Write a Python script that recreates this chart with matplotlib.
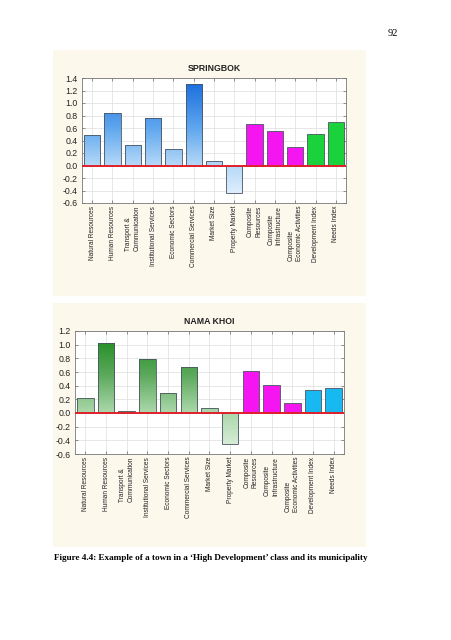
import numpy as np
import matplotlib
matplotlib.use('Agg')
import matplotlib.pyplot as plt
from matplotlib.colors import LinearSegmentedColormap
from matplotlib.patches import Rectangle

plt.rcParams['font.family'] = ['Liberation Sans', 'DejaVu Sans']

categories = ['Natural Resources', 'Human Resources', 'Transport &\nCommunication',
              'Institutional Services', 'Economic Sectors', 'Commercial Services',
              'Market Size', 'Property Market', 'Composite\nResources',
              'Composite\nInfrastructure', 'Composite\nEconomic Activities',
              'Development Index', 'Needs Index']

springbok = [0.49, 0.84, 0.33, 0.76, 0.26, 1.31, 0.08, -0.44, 0.66, 0.55, 0.30, 0.51, 0.70]
nama_khoi = [0.22, 1.02, 0.03, 0.79, 0.29, 0.67, 0.08, -0.45, 0.62, 0.41, 0.15, 0.33, 0.37]

# bar groups: first 8 gradient, next 3 composite, last 2 indices
groups = ['grad'] * 8 + ['comp'] * 3 + ['idx'] * 2

W, H = 452, 640
fig = plt.figure(figsize=(W / 100, H / 100), dpi=100)
fig.patch.set_facecolor('white')


def px(l, t, r, b):
    return [l / W, 1 - b / H, (r - l) / W, (b - t) / H]


def panel(t, b):
    fig.patches.append(Rectangle((53 / W, 1 - b / H), (366 - 53) / W, (b - t) / H,
                                 transform=fig.transFigure, facecolor='#fdf8ec',
                                 edgecolor='none', zorder=-5))


def draw(rect, values, title, ylim, yticks, cmap, idx_color):
    ax = fig.add_axes(px(*rect))
    ax.set_zorder(2)
    ax.set_facecolor('white')
    x = np.arange(len(values))
    ax.set_xlim(-0.5, len(values) - 0.5)
    ax.set_ylim(*ylim)
    grad = np.linspace(0, 1, 256).reshape(-1, 1)
    for xi, v, g in zip(x, values, groups):
        if g == 'grad':
            bar = ax.bar(xi, v, width=0.8, facecolor='none', edgecolor='#4a5560',
                         linewidth=0.6, zorder=3)[0]
            im = ax.imshow(grad, cmap=cmap, origin='lower', aspect='auto',
                           extent=(-0.5, len(values) - 0.5, ylim[0], ylim[1]), zorder=2)
            im.set_clip_path(bar)
        else:
            c = '#f515f0' if g == 'comp' else idx_color
            ax.bar(xi, v, width=0.8, color=c, edgecolor='#4a5560', linewidth=0.6, zorder=3)
    ax.set_xlim(-0.5, len(values) - 0.5)
    ax.set_ylim(*ylim)
    ax.axhline(0, color='#e0202a', linewidth=1.4, zorder=4)
    ax.set_yticks(yticks)
    ax.set_yticklabels(['%.1f' % t for t in yticks], fontsize=6.3, color='#222222')
    ax.set_xticks(x)
    ax.set_xticklabels(categories, rotation=90, fontsize=4.7, va='top', ha='center',
                       multialignment='left', color='#222222')
    ax.grid(True, color='#dddddd', linewidth=0.5, zorder=0)
    ax.set_axisbelow(True)
    ax.tick_params(direction='in', length=2, width=0.5, top=True, right=True,
                   color='#666666', pad=2)
    ax.tick_params(axis='y', pad=3)
    for s in ax.spines.values():
        s.set_color('#777777')
        s.set_linewidth(0.6)
    ax.set_title(title, fontsize=6.3, fontweight='bold', pad=5, color='#222222')
    return ax


blue = LinearSegmentedColormap.from_list('b', [(0, '#eef6ff'), (0.3, '#b4d8f8'),
                                               (0.6, '#5ea6ee'), (1, '#1468dc')])
green = LinearSegmentedColormap.from_list('g', [(0, '#e4f2e4'), (0.35, '#a8d6a8'),
                                                (0.65, '#5aa85a'), (1, '#168816')])

panel(50, 296)
panel(303, 547)

draw((82, 78, 346, 203), springbok, 'SPRINGBOK', (-0.6, 1.4),
     np.round(np.arange(-0.6, 1.41, 0.2), 1), blue, '#19d23c')
draw((75, 331, 344, 454), nama_khoi, 'NAMA KHOI', (-0.6, 1.2),
     np.round(np.arange(-0.6, 1.21, 0.2), 1), green, '#18b8f0')

fig.text(393 / W, 1 - 33 / H, '92', fontsize=7.5, family='Liberation Serif',
         ha='center', va='center')
fig.text(54 / W, 1 - 558 / H,
         'Figure 4.4: Example of a town in a \u2018High Development\u2019 class and its municipality',
         fontsize=6.6, family='Liberation Serif', fontweight='bold', ha='left', va='center')

fig.savefig('out.png', dpi=100)
